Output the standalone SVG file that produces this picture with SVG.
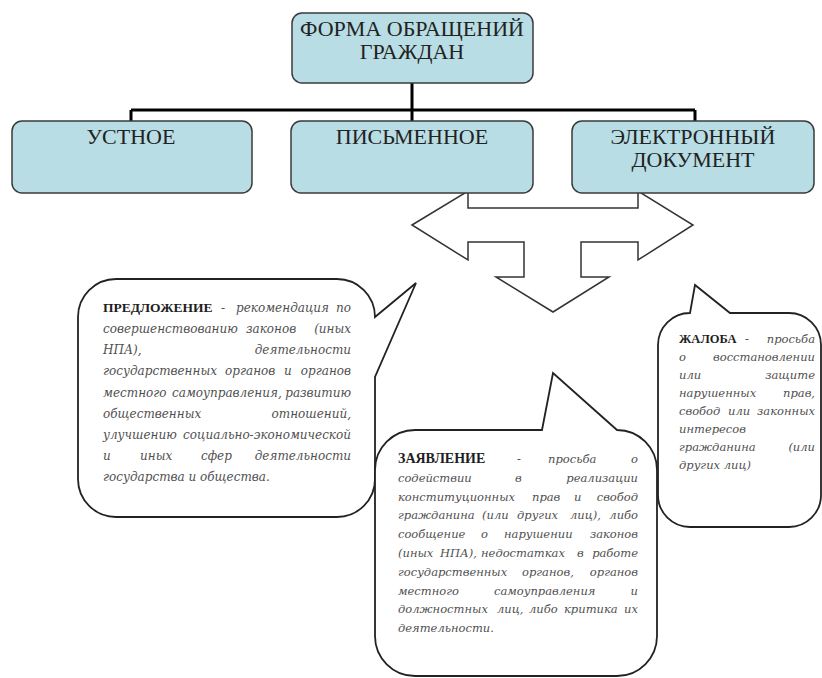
<svg xmlns="http://www.w3.org/2000/svg" width="822" height="678" viewBox="0 0 822 678">
<style>
.box{fill:#b8dde4;stroke:#3a3a3a;stroke-width:1.5}
.bt{font-family:"Liberation Serif","Times New Roman",serif;font-size:22px;fill:#222;text-anchor:middle}
.conn{stroke:#000;stroke-width:3;fill:none}
.arrow{fill:#fff;stroke:#333;stroke-width:1.5;stroke-linejoin:miter}
.call{fill:#fff;stroke:#222;stroke-width:1.8;stroke-linejoin:miter}
.h{font-family:"Liberation Serif","Times New Roman",serif;font-weight:bold;fill:#1e1e1e}
.t{font-family:"DejaVu Serif",serif;font-style:italic;font-size:12px;fill:#505050}
.s .t{font-size:11.5px}
.e{text-anchor:end}
</style>
<rect width="822" height="678" fill="#fff"/>
<g id="arrow">
<path class="arrow" d="M412,225 L468,191 L468,208 L638,208 L638,191 L693,225 L638,260 L638,242 L581,242 L581,277 L609,277 L553,312 L496,277 L524,277 L524,242 L468,242 L468,260 Z"/>
</g>
<g id="connectors">
<path class="conn" d="M412,83 V110 M131,110 H695 M131,110 V121 M412,110 V121 M695,110 V121"/>
</g>
<g id="node-root">
<rect class="box" x="292" y="13" width="241" height="70" rx="10"/>
<text class="bt" x="412" y="36">ФОРМА ОБРАЩЕНИЙ</text>
<text class="bt" x="412" y="59">ГРАЖДАН</text>
</g>
<g id="node-oral">
<rect class="box" x="12" y="121" width="240" height="72" rx="10"/>
<text class="bt" x="131" y="144">УСТНОЕ</text>
</g>
<g id="node-written">
<rect class="box" x="291" y="121" width="242" height="72" rx="10"/>
<text class="bt" x="412" y="144">ПИСЬМЕННОЕ</text>
</g>
<g id="node-electronic">
<rect class="box" x="572" y="121" width="242" height="72" rx="10"/>
<text class="bt" x="693" y="144">ЭЛЕКТРОННЫЙ</text>
<text class="bt" x="693" y="167">ДОКУМЕНТ</text>
</g>
<g id="node-proposal">
<path class="call" d="M116,279 H337 A38,38 0 0 1 375,317 L416,283 L375,377 V479 A38,38 0 0 1 337,517 H116 A38,38 0 0 1 78,479 V317 A38,38 0 0 1 116,279 Z"/>
<text y="312"><tspan class="h" x="103" font-size="13.5">ПРЕДЛОЖЕНИЕ</tspan><tspan class="t" x="221">-</tspan><tspan class="t" x="236">рекомендация</tspan></text>
<text class="t e" x="351" y="312">по</text>
<text class="t" x="103" y="333">совершенствованию</text>
<text class="t" x="246" y="333">законов</text>
<text class="t e" x="351" y="333">(иных</text>
<text class="t" x="103" y="354">НПА),</text>
<text class="t e" x="351" y="354">деятельности</text>
<text class="t" y="375"><tspan x="103">государственных</tspan><tspan x="225">органов</tspan><tspan x="284">и</tspan></text>
<text class="t e" x="351" y="375">органов</text>
<text class="t" y="396.5"><tspan x="103">местного</tspan><tspan x="172">самоуправления,</tspan></text>
<text class="t e" x="351" y="396.5">развитию</text>
<text class="t" x="103" y="417.5">общественных</text>
<text class="t e" x="351" y="417.5">отношений,</text>
<text class="t" x="103" y="438.5">улучшению</text>
<text class="t e" x="351" y="438.5">социально-экономической</text>
<text class="t" y="460"><tspan x="103">и</tspan><tspan x="140">иных</tspan><tspan x="201">сфер</tspan></text>
<text class="t e" x="351" y="460">деятельности</text>
<text class="t" x="103" y="481">государства и общества.</text>
</g>
<g id="node-statement" class="s">
<path class="call" d="M415,430 H542 L553,373 L617,430 A40,40 0 0 1 657,470 V636 A40,40 0 0 1 617,676 H415 A40,40 0 0 1 375,636 V470 A40,40 0 0 1 415,430 Z"/>
<text y="463"><tspan class="h" x="398" font-size="14">ЗАЯВЛЕНИЕ</tspan><tspan class="t" x="517">-</tspan><tspan class="t" x="548">просьба</tspan></text>
<text class="t e" x="638" y="463">о</text>
<text class="t" y="481.8"><tspan x="398">содействии</tspan><tspan x="515">в</tspan></text>
<text class="t e" x="638" y="481.8">реализации</text>
<text class="t" y="500.6"><tspan x="398">конституционных</tspan><tspan x="532">прав</tspan><tspan x="574">и</tspan></text>
<text class="t e" x="638" y="500.6">свобод</text>
<text class="t" y="519.4"><tspan x="398">гражданина</tspan><tspan x="482">(или</tspan><tspan x="517">других</tspan><tspan x="570">лиц),</tspan></text>
<text class="t e" x="638" y="519.4">либо</text>
<text class="t" y="538.2"><tspan x="398">сообщение</tspan><tspan x="481">о</tspan><tspan x="504">нарушении</tspan></text>
<text class="t e" x="638" y="538.2">законов</text>
<text class="t" y="557"><tspan x="398">(иных</tspan><tspan x="440">НПА),</tspan><tspan x="481">недостатках</tspan><tspan x="577">в</tspan></text>
<text class="t e" x="638" y="557">работе</text>
<text class="t" y="575.8"><tspan x="398">государственных</tspan><tspan x="522">органов,</tspan></text>
<text class="t e" x="638" y="575.8">органов</text>
<text class="t" y="594.6"><tspan x="398">местного</tspan><tspan x="494">самоуправления</tspan></text>
<text class="t e" x="638" y="594.6">и</text>
<text class="t" y="613.4"><tspan x="398">должностных</tspan><tspan x="497">лиц,</tspan><tspan x="529">либо</tspan><tspan x="564">критика</tspan></text>
<text class="t e" x="638" y="613.4">их</text>
<text class="t" x="398" y="632.2">деятельности.</text>
</g>
<g id="node-complaint" class="s">
<path class="call" d="M690,313 L695,285 L730,313 H789 A32,32 0 0 1 821,345 V495 A32,32 0 0 1 789,527 H690 A32,32 0 0 1 658,495 V345 A32,32 0 0 1 690,313 Z"/>
<text y="343"><tspan class="h" x="679" font-size="12.5">ЖАЛОБА</tspan><tspan class="t" x="745">-</tspan></text>
<text class="t e" x="815" y="343">просьба</text>
<text class="t" x="679" y="361">о</text>
<text class="t e" x="815" y="361">восстановлении</text>
<text class="t" x="679" y="379">или</text>
<text class="t e" x="815" y="379">защите</text>
<text class="t" x="679" y="397">нарушенных</text>
<text class="t e" x="815" y="397">прав,</text>
<text class="t" y="415"><tspan x="679">свобод</tspan><tspan x="728">или</tspan></text>
<text class="t e" x="815" y="415">законных</text>
<text class="t" x="679" y="433">интересов</text>
<text class="t" x="679" y="451">гражданина</text>
<text class="t e" x="815" y="451">(или</text>
<text class="t" x="679" y="469">других лиц)</text>
</g>
</svg>
